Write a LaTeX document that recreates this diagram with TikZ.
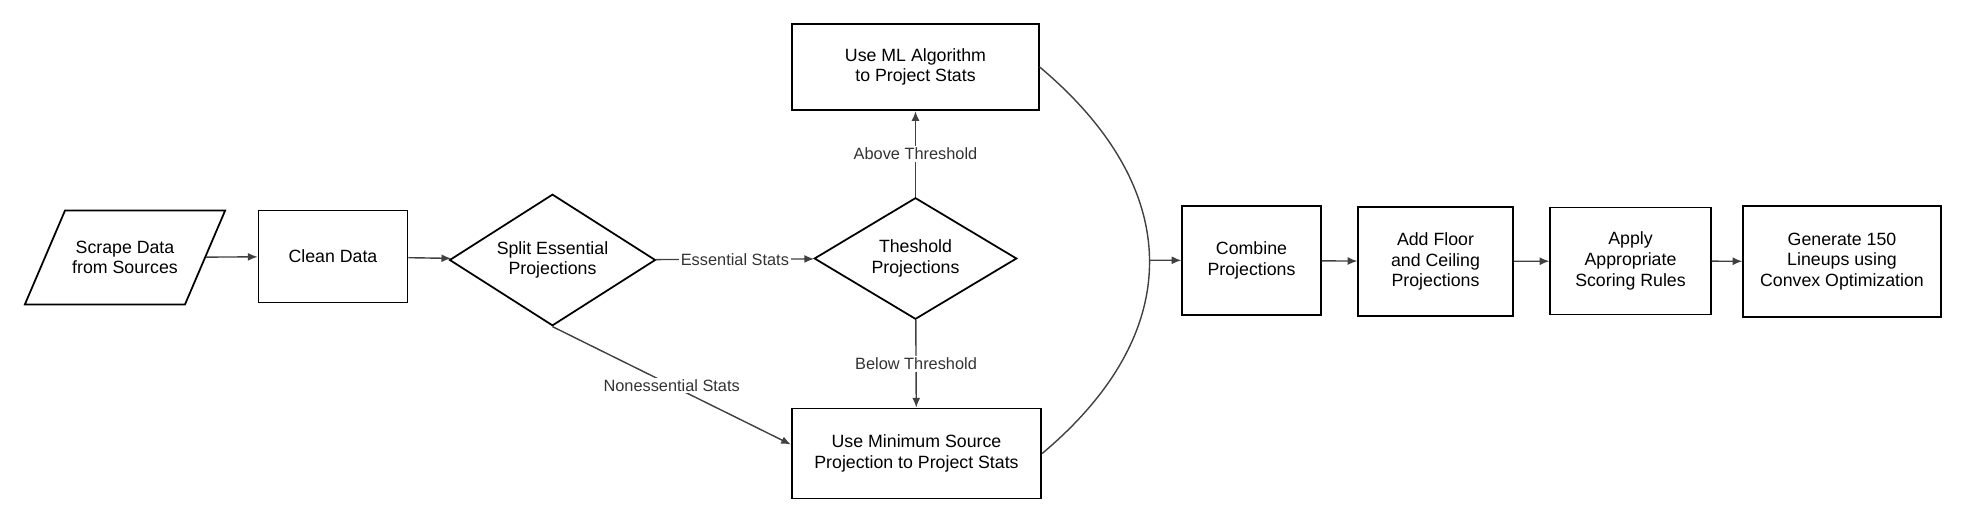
\documentclass[tikz,border=0pt]{standalone}
\usepackage{fontspec}
\setmainfont{Liberation Sans}
\usetikzlibrary{shapes.geometric,arrows.meta}
\begin{document}
\begin{tikzpicture}[
  box/.style = {draw, line width=1pt, align=center, inner sep=0pt, font=\fontsize{10.1pt}{11.8pt}\selectfont},
  decide/.style = {box, diamond, shape aspect=1.6},
  inout/.style = {box, trapezium, trapezium left angle=67, trapezium right angle=113, trapezium stretches=true, inner ysep=0.5cm},
  arr/.style = {-{Latex[length=5.5pt,width=4.5pt]}, line width=0.8pt, black!75},
  lbl/.style = {fill=white, text=black!80, inner sep=1pt, font=\fontsize{9.3pt}{11pt}\selectfont}]
\useasboundingbox (0,0) rectangle (39.3,10.48);
\node[inout, minimum width=4.04cm, minimum height=1.88cm] (scrape) at (2.50,5.33) {Scrape Data\\from Sources};
\node[box, minimum width=2.98cm, minimum height=1.84cm] (clean) at (6.66,5.35) {Clean Data};
\node[decide, minimum width=4.12cm, minimum height=2.63cm] (split) at (11.05,5.28) {Split Essential\\Projections};
\node[decide, minimum width=4.05cm, minimum height=2.43cm] (thresh) at (18.31,5.31) {Theshold\\Projections};
\node[box, minimum width=4.93cm, minimum height=1.73cm] (ml) at (18.31,9.14) {Use ML Algorithm\\to Project Stats};
\node[box, minimum width=4.99cm, minimum height=1.80cm] (mn) at (18.33,1.41) {Use Minimum Source\\Projection to Project Stats};
\node[box, minimum width=2.77cm, minimum height=2.19cm] (comb) at (25.03,5.27) {Combine\\Projections};
\node[box, minimum width=3.09cm, minimum height=2.18cm] (floor) at (28.71,5.25) {Add Floor\\and Ceiling\\Projections};
\node[box, minimum width=3.21cm, minimum height=2.14cm] (apply) at (32.61,5.26) {Apply\\Appropriate\\Scoring Rules};
\node[box, minimum width=3.95cm, minimum height=2.21cm] (gen) at (36.84,5.25) {Generate 150\\Lineups using\\Convex Optimization};
\draw[arr] (scrape) -- (clean);
\draw[arr] (clean) -- (split);
\draw[arr] (split) -- node[lbl]{Essential Stats} (thresh);
\draw[arr] (thresh) -- node[lbl]{Above Threshold} (ml);
\draw[arr] (thresh) -- node[lbl]{Below Threshold} (mn);
\draw[arr] (split.south) -- node[lbl]{Nonessential Stats} ([yshift=0.18cm]mn.west);
\draw[line width=0.8pt, black!75] (ml.east) to[out=-40, in=40, looseness=1.25] coordinate[pos=0.5] (merge) (mn.east);
\draw[arr] (merge) -- (comb);
\draw[arr] (comb) -- (floor);
\draw[arr] (floor) -- (apply);
\draw[arr] (apply) -- (gen);
\end{tikzpicture}
\end{document}
